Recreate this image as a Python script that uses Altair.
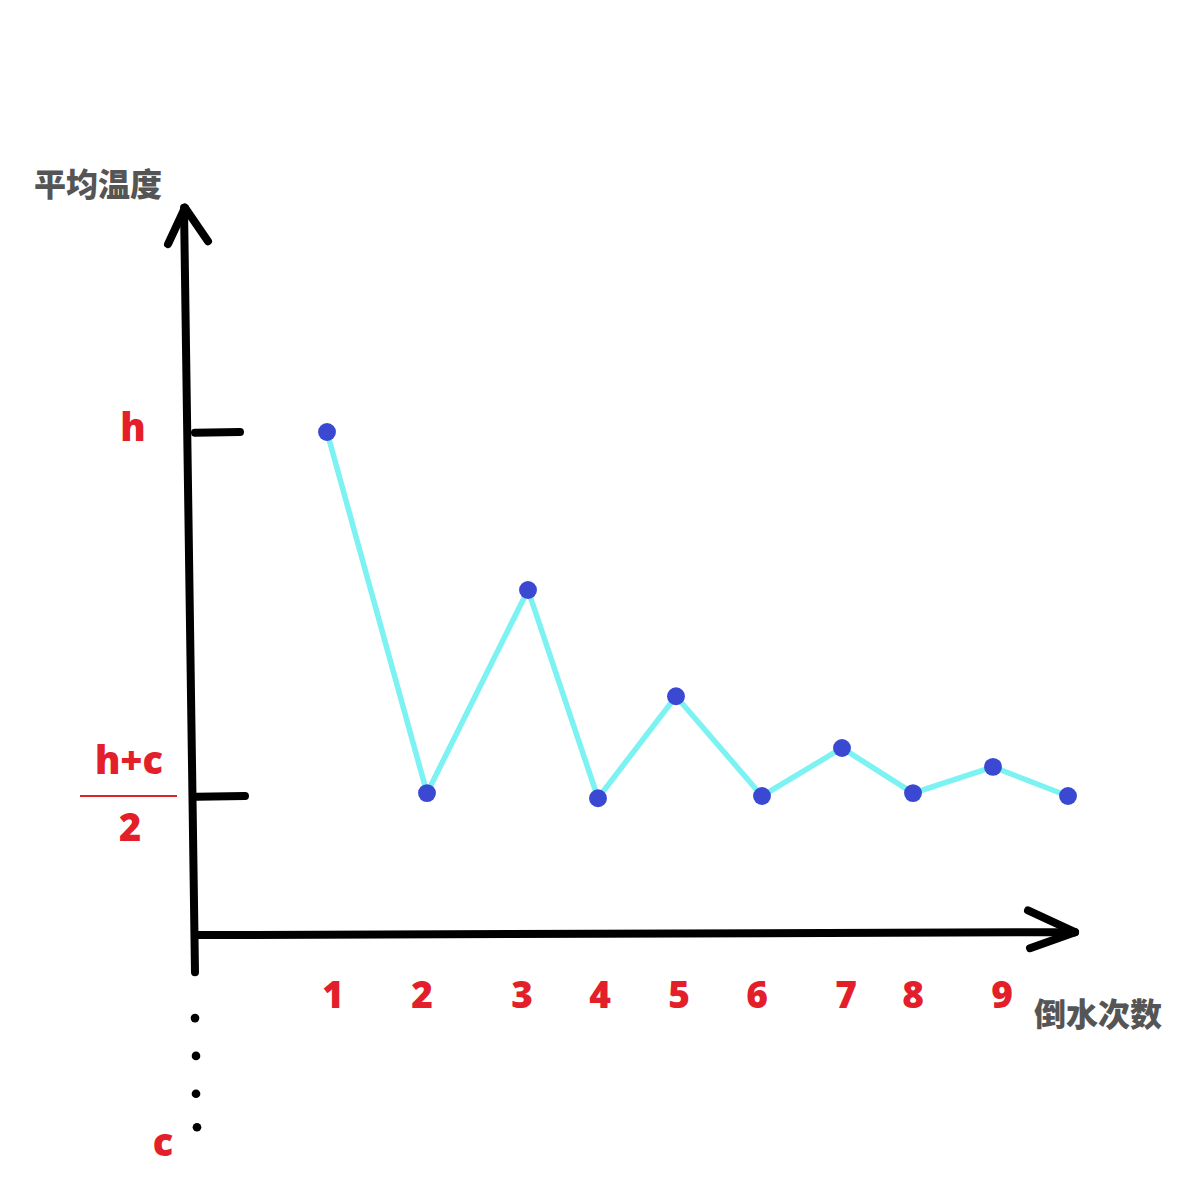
import altair as alt
import pandas as pd

# Average temperature after each pour, normalised so that c = 0 and h = 1
pour_pos = [327, 427, 528, 598, 676, 762, 842, 913, 993, 1068]
avg_temp = [1.000, 0.504, 0.783, 0.497, 0.637, 0.500, 0.566, 0.504, 0.540, 0.500]

# Pour-count labels under the horizontal axis
count_labels = ["1", "2", "3", "4", "5", "6", "7", "8", "9"]
count_pos = [333, 422, 522, 600, 679, 757, 846, 913, 1002]

# Hand-drawn axes, arrowheads and ticks: (x, y, x2, y2)
stroke_x = [195, 168, 208, 197, 1028, 1030, 195, 197]
stroke_y = [0.258, 1.258, 1.262, 0.309, 0.343, 0.291, 0.999, 0.499]
stroke_x2 = [184, 185, 185, 1075, 1075, 1075, 240, 245]
stroke_y2 = [1.308, 1.308, 1.308, 0.313, 0.313, 0.313, 1.000, 0.500]

# Dotted continuation of the vertical axis down towards c
gap_x = [195, 196, 196, 197]
gap_y = [0.195, 0.143, 0.091, 0.045]

# Value labels on the temperature axis
ylab_text = ["h", "h+c", "2", "c"]
ylab_x = [133, 129, 130, 163]
ylab_y = [1.003, 0.545, 0.453, 0.021]

RED = "#e3202a"
GREY = "#555555"

X = alt.Scale(domain=[0, 1200], nice=False, zero=False)
Y = alt.Scale(domain=[-0.0549, 1.5934], nice=False, zero=False)
ax = dict(axis=None, scale=X)
ay = dict(axis=None, scale=Y)

series = pd.DataFrame({"pos": pour_pos, "temp": avg_temp})
strokes = pd.DataFrame({"x": stroke_x, "y": stroke_y, "x2": stroke_x2, "y2": stroke_y2})
gaps = pd.DataFrame({"x": gap_x, "y": gap_y})
counts = pd.DataFrame({"x": count_pos, "label": count_labels, "y": [0.224] * len(count_pos)})
ylabs = pd.DataFrame({"x": ylab_x, "y": ylab_y, "label": ylab_text})
frac = pd.DataFrame({"x": [80], "x2": [177], "y": [0.5]})
titles = pd.DataFrame({"x": [98, 1098], "y": [1.338, 0.198], "label": ["平均温度", "倒水次数"]})

axes_layer = alt.Chart(strokes).mark_rule(
    color="black", strokeWidth=8, strokeCap="round"
).encode(
    x=alt.X("x:Q", **ax), y=alt.Y("y:Q", **ay), x2="x2:Q", y2="y2:Q"
)

gap_layer = alt.Chart(gaps).mark_circle(color="black", size=75, opacity=1).encode(
    x=alt.X("x:Q", **ax), y=alt.Y("y:Q", **ay)
)

line_layer = alt.Chart(series).mark_line(color="#7cf2f2", strokeWidth=5.5).encode(
    x=alt.X("pos:Q", **ax), y=alt.Y("temp:Q", **ay)
)

point_layer = alt.Chart(series).mark_circle(color="#3a48d2", size=320, opacity=1).encode(
    x=alt.X("pos:Q", **ax), y=alt.Y("temp:Q", **ay)
)

count_layer = alt.Chart(counts).mark_text(
    color=RED, fontSize=37, fontWeight=800, font="Open Sans", baseline="middle", align="center"
).encode(x=alt.X("x:Q", **ax), y=alt.Y("y:Q", **ay), text="label:N")

ylab_layer = alt.Chart(ylabs).mark_text(
    color=RED, fontSize=38, fontWeight=800, font="Open Sans", baseline="middle", align="center"
).encode(x=alt.X("x:Q", **ax), y=alt.Y("y:Q", **ay), text="label:N")

frac_layer = alt.Chart(frac).mark_rule(color=RED, strokeWidth=2).encode(
    x=alt.X("x:Q", **ax), x2="x2:Q", y=alt.Y("y:Q", **ay)
)

title_layer = alt.Chart(titles).mark_text(
    color=GREY, fontSize=32, fontWeight=900, font="Noto Sans CJK SC", baseline="middle", align="center"
).encode(x=alt.X("x:Q", **ax), y=alt.Y("y:Q", **ay), text="label:N")

chart = alt.layer(
    axes_layer, gap_layer, line_layer, point_layer,
    count_layer, ylab_layer, frac_layer, title_layer
).properties(
    width=1200, height=1200, autosize=alt.AutoSizeParams(type="none"), padding=0,
    background="white"
).configure_view(stroke=None)

chart.save("out.html", embed_options={"renderer": "svg", "actions": False})
